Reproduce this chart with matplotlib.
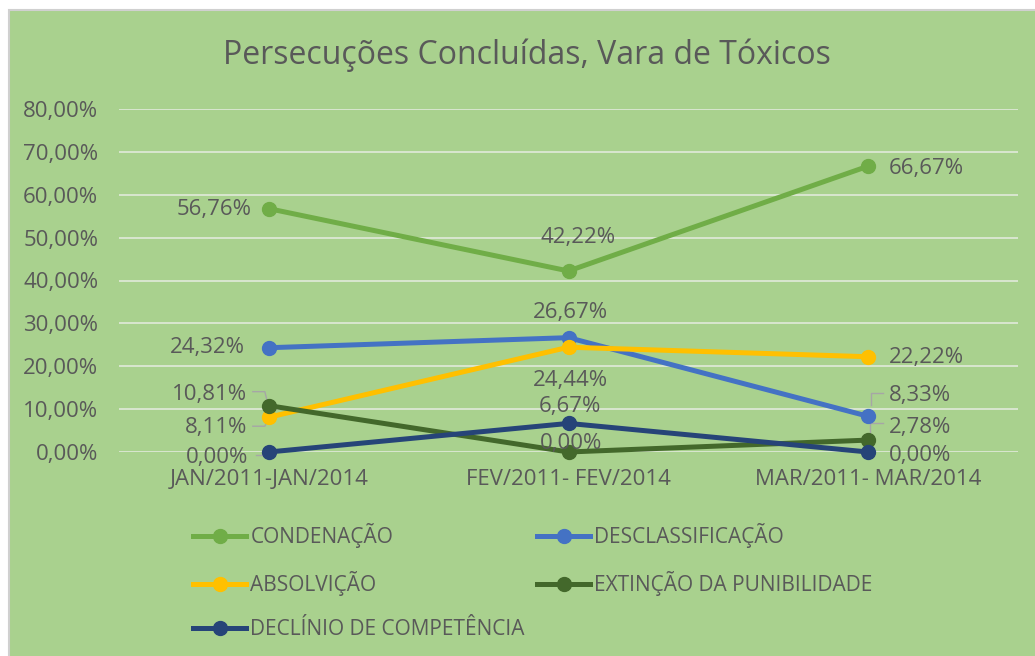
import matplotlib
matplotlib.use("Agg")
import matplotlib.pyplot as plt
from matplotlib.lines import Line2D
from matplotlib.patches import Rectangle
from matplotlib.ticker import FuncFormatter, MultipleLocator

# --- data -------------------------------------------------------------
periods = ["JAN/2011-JAN/2014", "FEV/2011- FEV/2014", "MAR/2011- MAR/2014"]
condenacao = [56.76, 42.22, 66.67]
desclassificacao = [24.32, 26.67, 8.33]
absolvicao = [8.11, 24.44, 22.22]
extincao = [10.81, 0.00, 2.78]
declinio = [0.00, 6.67, 0.00]

series_names = ["CONDENAÇÃO", "DESCLASSIFICAÇÃO", "ABSOLVIÇÃO",
                "EXTINÇÃO DA PUNIBILIDADE", "DECLÍNIO DE COMPETÊNCIA"]
series_values = [condenacao, desclassificacao, absolvicao, extincao, declinio]
series_colors = ["#70ad47", "#4472c4", "#ffc000", "#43682b", "#264478"]

title = "Persecuções Concluídas, Vara de Tóxicos"

# --- styling ----------------------------------------------------------
FONT = ["Open Sans", "DejaVu Sans"]
TEXT = "#595959"
BG = "#a9d18e"
plt.rcParams["font.family"] = FONT

W, H, DPI = 1035, 656, 100
fig = plt.figure(figsize=(W / DPI, H / DPI), dpi=DPI)
fig.patch.set_facecolor("white")
fig.patches.append(Rectangle((9 / W, -0.01), 1.0, 1 - 10 / H + 0.01,
                             transform=fig.transFigure, facecolor=BG,
                             edgecolor="#d0d0d0", linewidth=1.5, zorder=-10))

ax = fig.add_axes([119 / W, 1 - 452 / H, (1018 - 119) / W, (452 - 109) / H])
ax.set_facecolor("none")
for s in ax.spines.values():
    s.set_visible(False)

x = list(range(len(periods)))
ax.set_xlim(-0.5, len(periods) - 0.5)
ax.set_ylim(0, 80)
ax.yaxis.set_major_locator(MultipleLocator(10))
ax.yaxis.set_major_formatter(FuncFormatter(lambda v, _: f"{v:.2f}%".replace(".", ",")))
ax.set_xticks(x)
ax.set_xticklabels(periods)
ax.tick_params(axis="both", length=0, labelcolor=TEXT)
ax.tick_params(axis="y", pad=15, labelsize=16)
ax.tick_params(axis="x", pad=12, labelsize=16)
ax.grid(axis="y", color="#dde8d4", linewidth=1.3)
ax.set_axisbelow(True)

for name, vals, col in zip(series_names, series_values, series_colors):
    ax.plot(x, vals, color=col, linewidth=3.6, marker="o", markersize=10,
            solid_capstyle="round", zorder=3, clip_on=False)

fig.text(527 / W, 1 - 55 / H, title, ha="center", va="center",
         fontsize=23, color=TEXT)


def fmt(v):
    return f"{v:.2f}%".replace(".", ",")


def px_to_data(xd, yd, dx, dy):
    """Offset a data point by (dx, dy) screen pixels (dy downward)."""
    px, py = ax.transData.transform((xd, yd))
    return ax.transData.inverted().transform((px + dx, py - dy))


def label(si, pi, dx, dy, ha, leader=None):
    v = series_values[si][pi]
    tx, ty = px_to_data(pi, v, dx, dy)
    ax.text(tx, ty, fmt(v), ha=ha, va="center", fontsize=16, color=TEXT,
            zorder=5)
    if leader:
        pts = [px_to_data(pi, v, ox, oy) for ox, oy in leader]
        ax.add_line(Line2D([p[0] for p in pts], [p[1] for p in pts],
                           color="#a6a6a6", linewidth=1, zorder=2,
                           clip_on=False))


# CONDENAÇÃO
label(0, 0, -17, 1, "right")
label(0, 1, 10, -33, "center")
label(0, 2, 21, 2, "left")
# DESCLASSIFICAÇÃO
label(1, 0, -24, 0, "right")
label(1, 1, 2, -25, "center")
label(1, 2, 21, -21, "left", leader=[(3, -11), (3, -23), (15, -23)])
# ABSOLVIÇÃO
label(2, 0, -22, 10, "right", leader=[(-1, 3), (-4, 9), (-16, 9)])
label(2, 1, 2, 33, "center")
label(2, 2, 21, 1, "left")
# EXTINÇÃO DA PUNIBILIDADE
label(3, 0, -22, -11, "right", leader=[(-2, -6), (-4, -14), (-16, -14)])
label(3, 1, 3, -9, "center")
label(3, 2, 21, -13, "left", leader=[(2, -6), (2, -17), (15, -17)])
# DECLÍNIO DE COMPETÊNCIA
label(4, 0, -21, 5, "right", leader=[(-4, 3), (-13, 3)])
label(4, 1, 1, -17, "center")
label(4, 2, 21, 3, "left")

# legend: two columns, filled row by row
legend_kw = dict(frameon=False, fontsize=15, labelcolor=TEXT,
                 handlelength=2.55, handletextpad=0.2, labelspacing=1.1,
                 borderaxespad=0, borderpad=0, loc="upper left")


def handle(i):
    return Line2D([], [], color=series_colors[i], linewidth=3.6, marker="o",
                  markersize=10)


left_col, right_col = [0, 2, 4], [1, 3]
fig.legend([handle(i) for i in left_col], [series_names[i] for i in left_col],
           bbox_to_anchor=(193 / W, 1 - 523 / H), **legend_kw)
fig.legend([handle(i) for i in right_col], [series_names[i] for i in right_col],
           bbox_to_anchor=(537 / W, 1 - 523 / H), **legend_kw)

fig.savefig("out.png", dpi=DPI)
